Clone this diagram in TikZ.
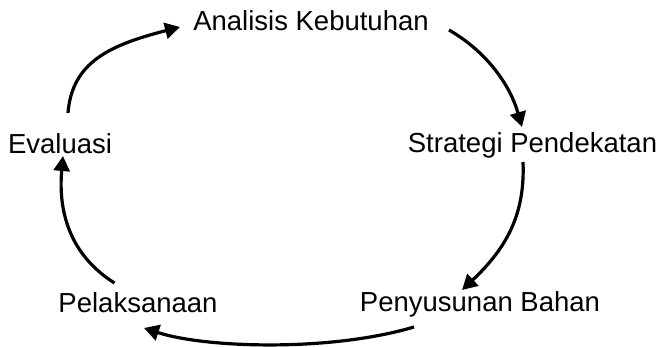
\documentclass[tikz,border=0pt]{standalone}
\usepackage{fontspec}
\setmainfont{Liberation Sans}
\usetikzlibrary{arrows.meta}

\begin{document}
\begin{tikzpicture}[x=1pt, y=-1pt,
  lbl/.style={font=\fontsize{27.5}{33}\selectfont, inner sep=0pt, anchor=base},
  cyc/.style={line width=3.2pt, -{Triangle[length=15pt,width=16pt]}}]
  \useasboundingbox (0,0) rectangle (663,347);
  \node[lbl] (ak) at (311,31) {Analisis Kebutuhan};
  \node[lbl] (sp) at (532.5,153) {Strategi Pendekatan};
  \node[lbl] (pb) at (480,311) {Penyusunan Bahan};
  \node[lbl] (pl) at (138,312) {Pelaksanaan};
  \node[lbl] (ev) at (60,154) {Evaluasi};
  % the cycle, clockwise
  \draw[cyc] ([shift={(138,-1)}]ak.base) .. controls (487,52) and (510,85) .. ([shift={(-10.5,-26)}]sp.base);
  \draw[cyc] ([shift={(-9.5,9)}]sp.base) .. controls (525,210) and (510,245) .. ([shift={(-18,-21)}]pb.base);
  \draw[cyc] ([shift={(-66,16)}]pb.base) .. controls (330,352) and (205,348) .. ([shift={(6,16)}]pl.base);
  \draw[cyc] ([shift={(-23.5,-29)}]pl.base) .. controls (70,255) and (58,212) .. ([shift={(3,2)}]ev.base);
  \draw[cyc] ([shift={(8,-41)}]ev.base) .. controls (72,62) and (110,45) .. ([shift={(-131,-4)}]ak.base);
\end{tikzpicture}
\end{document}
